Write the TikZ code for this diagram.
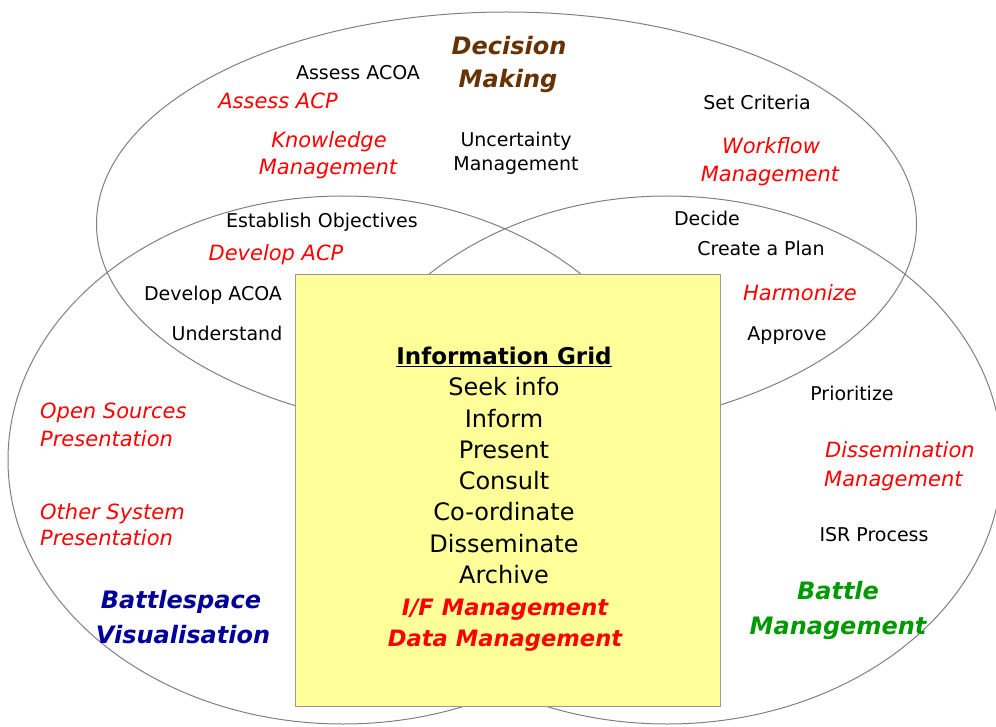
\documentclass[tikz,border=0pt]{standalone}
\usepackage{fontspec}
\setmainfont{DejaVu Sans}
\definecolor{ellgray}{HTML}{808080}
\definecolor{boxgray}{HTML}{999999}
\definecolor{boxyellow}{HTML}{FFFF99}
\definecolor{dmbrown}{HTML}{663300}
\definecolor{bvblue}{HTML}{000099}
\definecolor{bmgreen}{HTML}{009900}
\definecolor{redtxt}{HTML}{FF0000}
\begin{document}
\begin{tikzpicture}[x=1pt,y=-1pt,
  ring/.style={draw=ellgray, line width=1pt},
  plain/.style={font=\fontsize{19}{24}\selectfont, text=black, fill=white, inner sep=1pt, anchor=base},
  redit/.style={font=\fontsize{21}{28}\selectfont\itshape, text=redtxt, inner sep=0pt, anchor=base},
  ttl/.style={font=\fontsize{24}{35}\selectfont\bfseries\itshape, inner sep=0pt, anchor=base},
  grid/.style={font=\fontsize{24}{31}\selectfont, text=black, inner sep=0pt, anchor=base},
  gridred/.style={font=\fontsize{22.6}{31}\selectfont\bfseries\itshape, text=redtxt, inner sep=0pt, anchor=base},
]
\useasboundingbox (0,0) rectangle (996,727);
\fill[white] (0,0) rectangle (996,727);

% ellipses
\draw[ring] (506.5,224) ellipse [x radius=410pt, y radius=212pt];
\draw[ring] (343,460) ellipse [x radius=335pt, y radius=264pt];
\draw[ring] (667,460) ellipse [x radius=335pt, y radius=264pt];

% central box
\node[draw=boxgray, fill=boxyellow, line width=1pt, minimum width=425pt, minimum height=431pt, inner sep=0pt] (box) at (507.5,490.5) {};

% Decision Making
\node[ttl, text=dmbrown] (dm1) at (509,55) {Decision};
\node[ttl, text=dmbrown] (dm2) at (508,88) {Making};
\node[plain] (acoa) at (358,80) {Assess ACOA};
\node[redit] (acp) at (278,109) {Assess ACP};
\node[redit] (km1) at (329,148) {Knowledge};
\node[redit] (km2) at (328,175) {Management};
\node[plain, inner sep=0pt] (um1) at (516,147) {Uncertainty};
\node[plain, inner sep=0pt] (um2) at (516,171) {Management};
\node[plain] (crit) at (757,110) {Set Criteria};
\node[redit] (wf1) at (771,154) {Workflow};
\node[redit] (wf2) at (770,182) {Management};

% intersections
\node[plain] (estobj) at (322,228) {Establish Objectives};
\node[redit] (devacp) at (276,261) {Develop ACP};
\node[plain] (devacoa) at (213,301) {Develop ACOA};
\node[plain] (under) at (227,341) {Understand};
\node[plain] (decide) at (707,226) {Decide};
\node[plain] (plan) at (761,256) {Create a Plan};
\node[redit] (harm) at (800,301) {Harmonize};
\node[plain] (appr) at (787,341) {Approve};

% Battle Management
\node[plain] (prio) at (852,400) {Prioritize};
\node[redit, anchor=base west] (dis1) at (825,457) {Dissemination};
\node[redit, anchor=base west] (dis2) at (824,486) {Management};
\node[plain] (isr) at (874,541) {ISR Process};
\node[ttl, text=bmgreen] (bm1) at (838,599) {Battle};
\node[ttl, text=bmgreen] (bm2) at (838,634) {Management};

% Battlespace Visualisation
\node[redit, anchor=base west] (os1) at (40,418) {Open Sources};
\node[redit, anchor=base west] (os2) at (40,446) {Presentation};
\node[redit, anchor=base west] (oth1) at (40,519) {Other System};
\node[redit, anchor=base west] (oth2) at (40,545) {Presentation};
\node[ttl, text=bvblue] (bv1) at (181,608) {Battlespace};
\node[ttl, text=bvblue] (bv2) at (183,643) {Visualisation};

% Information Grid
\node[grid, font=\fontsize{23}{31}\selectfont\bfseries] (ig) at (504,364) {\underline{Information Grid}};
\node[grid] (g1) at (504,395) {Seek info};
\node[grid] (g2) at (504,427) {Inform};
\node[grid] (g3) at (504,458) {Present};
\node[grid] (g4) at (504,489) {Consult};
\node[grid] (g5) at (504,520) {Co-ordinate};
\node[grid] (g6) at (504,552) {Disseminate};
\node[grid] (g7) at (504,583) {Archive};
\node[gridred] (g8) at (505,615) {I/F Management};
\node[gridred] (g9) at (505,646) {Data Management};
\end{tikzpicture}
\end{document}
